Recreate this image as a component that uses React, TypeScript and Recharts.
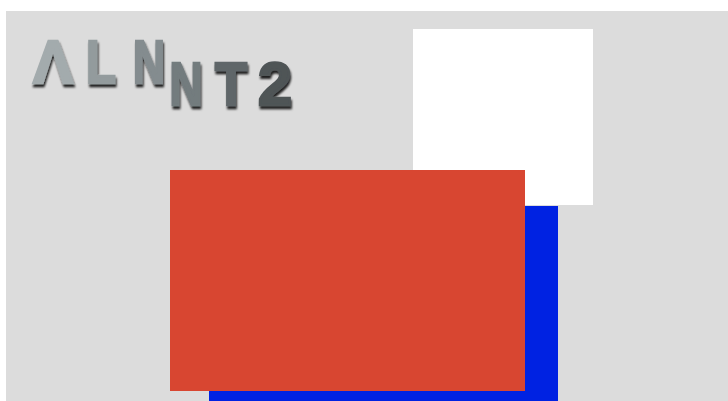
import { ScatterChart, Scatter, XAxis, YAxis, ReferenceArea } from 'recharts'

// canvas in pixel units, y grows downward
const xDomain = [0, 728]
const yDomain = [0, 401]

// blocks: [x1, x2, y1, y2]
const panelBox = [6, 728, 11, 401]
const whiteBox = [413, 593, 29, 205]
const blueBox = [209, 558, 206, 401]
const redBox = [170, 525, 170, 391]

// logo letters
const letters = ['Λ', 'L', 'N', 'N', 'T', '2']
const letterX = [53, 101, 149, 186, 231, 275]
const letterY = [84, 84, 84, 106, 106, 106]
const letterW = [40, 30, 32, 33, 32, 34]
const letterShade = ['#a3abad', '#939b9d', '#848c8f', '#737b7e', '#5f6669', '#4f5457']

const logoData = letters.map((ch, i) => ({
  ch, x: letterX[i], y: letterY[i], w: letterW[i], fill: letterShade[i],
}))

function Letter(props: any) {
  const { cx, cy, payload } = props
  return (
    <text
      x={cx - payload.w / 2}
      y={cy - 1}
      textLength={payload.w}
      lengthAdjust="spacingAndGlyphs"
      fontFamily="Liberation Sans, Arial, sans-serif"
      fontWeight={700}
      fontSize={61}
      fill={payload.fill}
      stroke={payload.fill}
      strokeWidth={2.6}
      strokeLinejoin="miter"
      filter="url(#logoShadow)"
    >
      {payload.ch}
    </text>
  )
}

function Box({ box, fill }: { box: number[]; fill: string }) {
  return (
    <ReferenceArea
      x1={box[0]} x2={box[1]} y1={box[2]} y2={box[3]}
      fill={fill} fillOpacity={1} stroke="none" ifOverflow="visible"
    />
  )
}

export default function App() {
  return (
    <div style={{ position: 'fixed', left: 0, top: 0, width: 728, height: 401, background: '#fff' }}>
      <ScatterChart width={728} height={401} margin={{ top: 0, right: 0, bottom: 0, left: 0 }}>
        <defs>
          <filter id="logoShadow" x="-20%" y="-20%" width="140%" height="160%">
            <feDropShadow dx="1" dy="3" stdDeviation="1.2" floodColor="#000" floodOpacity="0.85" />
          </filter>
        </defs>
        <XAxis type="number" dataKey="x" domain={xDomain} hide allowDataOverflow />
        <YAxis type="number" dataKey="y" domain={yDomain} reversed hide allowDataOverflow />
        {Box({ box: panelBox, fill: '#dcdcdc' })}
        {Box({ box: whiteBox, fill: '#ffffff' })}
        {Box({ box: blueBox, fill: '#0022e2' })}
        {Box({ box: redBox, fill: '#d84631' })}
        <Scatter data={logoData} shape={Letter} isAnimationActive={false} />
      </ScatterChart>
    </div>
  )
}
